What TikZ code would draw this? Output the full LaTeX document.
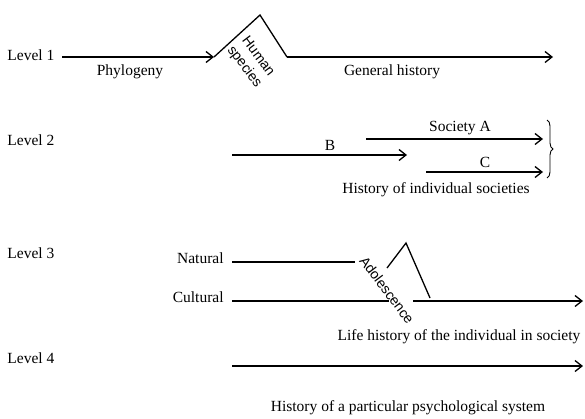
\documentclass[tikz,border=0pt]{standalone}
\usepackage{fontspec}
\setmainfont{Liberation Serif}
\setsansfont{Liberation Sans}
\usetikzlibrary{positioning, arrows.meta, decorations.pathreplacing}
\tikzset{every picture/.append style={thick}}
\tikzset{
  hist/.style={line width=1.3pt, -{Straight Barb[length=7pt,width=11pt]}},
  seg/.style={line width=1.3pt},
  lbl/.style={font=\fontsize{15.5}{15}\selectfont, inner sep=1pt},
  slant/.style={font=\sffamily\fontsize{14}{17}\selectfont, inner sep=1pt, rotate=-53},
}

\begin{document}
\begin{tikzpicture}[x=1pt,y=-1pt]
        \useasboundingbox (0,0) rectangle (585,418);

        % Level 1: phylogeny, human species, general history
        \node[lbl, anchor=west] (lev1) at (6,55) {Level 1};
        \coordinate (ph0) at (62,57);
        \coordinate (ph1) at (214,57);
        \coordinate (hstop) at (260,15);
        \coordinate (gh0) at (287,57);
        \coordinate (gh1) at (553,57);
        \draw[hist] (ph0) -- (ph1);
        \draw[seg] (ph1) -- (hstop) -- (gh0);
        \draw[hist] (gh0) -- (gh1);
        \node[lbl] (phylo) at (130,72) {Phylogeny};
        \node[slant, align=center] (human) at (251,62) {Human\\species};
        \node[lbl] (genhist) at (392,72) {General history};

        % Level 2: individual societies
        \node[lbl, anchor=west] (lev2) at (6,140) {Level 2};
        \coordinate (b0) at (232,155);
        \coordinate (b1) at (407,155);
        \coordinate (a0) at (366,139);
        \coordinate (a1) at (543,139);
        \coordinate (c0) at (426,172);
        \coordinate (c1) at (543,172);
        \draw[hist] (b0) -- (b1);
        \draw[hist] (a0) -- (a1);
        \draw[hist] (c0) -- (c1);
        \node[lbl] (socB) at (330,145) {B};
        \node[lbl] (socA) at (460,128) {Society A};
        \node[lbl] (socC) at (485,162) {C};
        \coordinate (br0) at (547,120);
        \coordinate (br1) at (547,178);
        \draw[line width=0.9pt, decorate, decoration={brace, amplitude=6pt}] (br0) -- (br1);
        \node[lbl] (indsoc) at (436,190) {History of individual societies};

        % Level 3: life history of the individual
        \node[lbl, anchor=west] (lev3) at (6,253) {Level 3};
        \node[lbl, anchor=east] (nat) at (225,258) {Natural};
        \node[lbl, anchor=east] (cult) at (225,297) {Cultural};
        \coordinate (n0) at (232,262);
        \coordinate (n1) at (355,262);
        \coordinate (k0) at (232,301);
        \coordinate (k1) at (389,301);
        \coordinate (l0) at (413,301);
        \coordinate (l1) at (583,301);
        \draw[seg] (n0) -- (n1);
        \draw[seg] (k0) -- (k1);
        \draw[hist] (l0) -- (l1);
        \coordinate (ad0) at (387,268);
        \coordinate (adtop) at (406,243);
        \coordinate (ad1) at (430,298);
        \draw[seg] (ad0) -- (adtop) -- (ad1);
        \node[slant] (adol) at (387,290) {Adolescence};
        \node[lbl] (life) at (459,337) {Life history of the individual in society};

        % Level 4: psychological system
        \node[lbl, anchor=west] (lev4) at (6,358) {Level 4};
        \coordinate (s0) at (232,366);
        \coordinate (s1) at (583,366);
        \draw[hist] (s0) -- (s1);
        \node[lbl] (psys) at (408,408) {History of a particular psychological system};

    \end{tikzpicture}
\end{document}
